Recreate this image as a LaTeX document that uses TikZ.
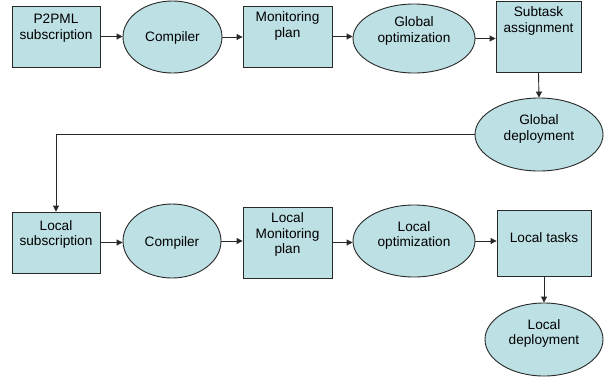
\documentclass[tikz,border=0pt]{standalone}
\usepackage{fontspec}
\setmainfont{Liberation Sans}
\usetikzlibrary{shapes.geometric,arrows.meta}
\definecolor{fillc}{RGB}{189,224,228}
\definecolor{linec}{RGB}{40,40,40}
\tikzset{
  box/.style={rectangle,draw=linec,fill=fillc,line width=0.9bp,inner sep=0pt},
  oval/.style={ellipse,draw=linec,fill=fillc,line width=0.9bp,inner sep=0pt},
  txt/.style={align=center,inner sep=0pt,font=\fontsize{13.7}{15.5}\selectfont},
  arr/.style={draw=linec,line width=0.9bp,-{Triangle[length=6bp,width=6bp]}},
}
\begin{document}
\begin{tikzpicture}[x=1bp,y=-1bp]
\useasboundingbox[fill=white] (0,0) rectangle (612,378);
% shapes
\node[box,minimum width=88bp,minimum height=61bp] (p2pml) at (56,36.5) {};
\node[oval,minimum width=99bp,minimum height=72bp] (comp1) at (172.5,37) {};
\node[box,minimum width=89bp,minimum height=61bp] (mon) at (287.5,36.5) {};
\node[oval,minimum width=122bp,minimum height=69bp] (gopt) at (414,38.5) {};
\node[box,minimum width=85bp,minimum height=71bp] (sub) at (538.5,36.5) {};
\node[oval,minimum width=128bp,minimum height=73bp] (gdep) at (539,134.5) {};
\node[box,minimum width=88bp,minimum height=61bp] (lsub) at (56,242.5) {};
\node[oval,minimum width=98bp,minimum height=74bp] (comp2) at (172,241) {};
\node[box,minimum width=89bp,minimum height=71bp] (lmon) at (287.5,242.5) {};
\node[oval,minimum width=122bp,minimum height=72bp] (lopt) at (414,241) {};
\node[box,minimum width=94bp,minimum height=66bp] (ltask) at (544,243) {};
\node[oval,minimum width=118bp,minimum height=73bp] (ldep) at (544,339.5) {};
% texts
\node[txt] (p2pml-t) at (56,28) {P2PML\\subscription};
\node[txt] (comp1-t) at (172.5,38) {Compiler};
\node[txt] (mon-t) at (287.5,26) {Monitoring\\plan};
\node[txt] (gopt-t) at (414,31) {Global\\optimization};
\node[txt] (sub-t) at (538.5,21) {Subtask\\assignment};
\node[txt] (gdep-t) at (539,129) {Global\\deployment};
\node[txt] (lsub-t) at (56,234.5) {Local\\subscription};
\node[txt] (comp2-t) at (172,243) {Compiler};
\node[txt] (lmon-t) at (287.5,234.5) {Local\\Monitoring\\plan};
\node[txt] (lopt-t) at (414,235.5) {Local\\optimization};
\node[txt] (ltask-t) at (544,238) {Local tasks};
\node[txt] (ldep-t) at (544,333.5) {Local\\deployment};
% connectors
\draw[arr] (p2pml.east) -- (p2pml.east -| comp1.west);
\draw[arr] (comp1.east) -- (comp1.east -| mon.west);
\draw[arr] (mon.east) -- (mon.east -| gopt.west);
\draw[arr] (gopt.east) -- (gopt.east -| sub.west);
\draw[arr] (sub.south) -- (gdep.north);
\draw[arr] (gdep.west) -| (lsub.north);
\draw[arr] (lsub.east) -- (lsub.east -| comp2.west);
\draw[arr] (comp2.east) -- (comp2.east -| lmon.west);
\draw[arr] (lmon.east) -- (lmon.east -| lopt.west);
\draw[arr] (lopt.east) -- (lopt.east -| ltask.west);
\draw[arr] (ltask.south) -- (ldep.north);
\end{tikzpicture}
\end{document}
